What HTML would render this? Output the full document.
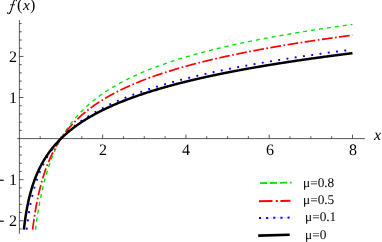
<!DOCTYPE html>
<html><head><meta charset="utf-8"><title>plot</title>
<style>
html,body{margin:0;padding:0;background:#fff;}
#c{position:relative;width:382px;height:242px;overflow:hidden;background:#fff;font-family:"Liberation Serif",serif;color:#000;}
.t{position:absolute;white-space:nowrap;line-height:1;text-rendering:geometricPrecision;will-change:transform;}
</style></head><body>
<div id="c">
<svg width="382" height="242" viewBox="0 0 382 242" style="position:absolute;left:0;top:0">
<g stroke="#222" stroke-width="0.75" fill="none">
<path d="M17.3 138.6 H364.9"/>
<path d="M19.400000000000002 20.0 V233.8"/>
<path d="M40.17 138.6 v-2.4 M60.99 138.6 v-2.4 M81.81 138.6 v-2.4 M102.63 138.6 v-4.0 M123.45 138.6 v-2.4 M144.27 138.6 v-2.4 M165.09 138.6 v-2.4 M185.91 138.6 v-4.0 M206.73 138.6 v-2.4 M227.55 138.6 v-2.4 M248.37 138.6 v-2.4 M269.19 138.6 v-4.0 M290.01 138.6 v-2.4 M310.83 138.6 v-2.4 M331.65 138.6 v-2.4 M352.47 138.6 v-4.0 M19.35 228.98 h2.4 M19.35 220.76 h4.1 M19.35 212.54 h2.4 M19.35 204.33 h2.4 M19.35 196.11 h2.4 M19.35 187.90 h2.4 M19.35 179.68 h4.1 M19.35 171.46 h2.4 M19.35 163.25 h2.4 M19.35 155.03 h2.4 M19.35 146.82 h2.4 M19.35 130.38 h2.4 M19.35 122.17 h2.4 M19.35 113.95 h2.4 M19.35 105.74 h2.4 M19.35 97.52 h4.1 M19.35 89.30 h2.4 M19.35 81.09 h2.4 M19.35 72.87 h2.4 M19.35 64.66 h2.4 M19.35 56.44 h4.1 M19.35 48.22 h2.4 M19.35 40.01 h2.4 M19.35 31.79 h2.4 M19.35 23.58 h2.4"/>
</g>
<path d="M35.47 229.60 L35.56 228.90 L35.65 228.19 L35.75 227.49 L35.84 226.78 L35.93 226.08 L36.03 225.39 L36.12 224.69 L36.22 223.96 L36.32 223.26 L36.42 222.55 L36.52 221.84 L36.62 221.14 L36.72 220.41 L36.83 219.69 L36.93 218.99 L37.04 218.27 L37.14 217.57 L37.25 216.86 L37.36 216.13 L37.47 215.43 L37.58 214.71 L37.70 213.98 L37.81 213.29 L37.92 212.59 L38.04 211.87 L38.16 211.15 L38.28 210.41 L38.40 209.72 L38.51 209.02 L38.63 208.32 L38.76 207.60 L38.88 206.88 L39.01 206.15 L39.15 205.41 L39.28 204.67 L39.41 203.98 L39.53 203.28 L39.66 202.58 L39.80 201.88 L39.93 201.17 L40.07 200.45 L40.21 199.73 L40.35 199.01 L40.50 198.29 L40.64 197.56 L40.79 196.82 L40.94 196.09 L41.10 195.35 L41.25 194.61 L41.41 193.86 L41.57 193.12 L41.72 192.43 L41.87 191.75 L42.02 191.06 L42.18 190.37 L42.34 189.68 L42.50 188.98 L42.66 188.29 L42.82 187.60 L42.99 186.90 L43.15 186.20 L43.32 185.51 L43.49 184.81 L43.67 184.11 L43.84 183.42 L44.02 182.72 L44.20 182.02 L44.38 181.33 L44.56 180.63 L44.75 179.93 L44.93 179.24 L45.12 178.54 L45.31 177.85 L45.51 177.15 L45.70 176.46 L45.90 175.76 L46.10 175.07 L46.30 174.38 L46.51 173.69 L46.71 173.00 L46.92 172.31 L47.13 171.63 L47.34 170.94 L47.56 170.26 L47.77 169.57 L47.99 168.89 L48.21 168.21 L48.43 167.53 L48.66 166.86 L48.88 166.18 L49.11 165.51 L49.34 164.84 L49.58 164.17 L49.81 163.50 L50.05 162.83 L50.29 162.17 L50.53 161.51 L50.77 160.85 L51.02 160.19 L51.27 159.53 L51.52 158.88 L51.79 158.17 L52.07 157.46 L52.35 156.75 L52.63 156.05 L52.92 155.35 L53.21 154.65 L53.50 153.96 L53.79 153.26 L54.09 152.57 L54.39 151.89 L54.69 151.20 L54.99 150.52 L55.30 149.84 L55.61 149.17 L55.92 148.49 L56.23 147.82 L56.55 147.16 L56.87 146.49 L57.19 145.83 L57.51 145.17 L57.84 144.52 L58.17 143.87 L58.50 143.22 L58.84 142.57 L59.18 141.93 L59.52 141.29 L59.86 140.65 L60.21 140.01 L60.55 139.38 L60.90 138.75 L61.26 138.13 L61.61 137.50 L61.97 136.88 L62.33 136.27 L62.70 135.65 L63.07 135.04 L63.44 134.43 L63.81 133.83 L64.18 133.22 L64.56 132.62 L64.94 132.03 L65.32 131.43 L65.71 130.84 L66.10 130.25 L66.49 129.67 L66.88 129.09 L67.28 128.51 L67.68 127.93 L68.08 127.36 L68.49 126.79 L68.93 126.17 L69.37 125.56 L69.82 124.95 L70.27 124.34 L70.73 123.74 L71.18 123.14 L71.65 122.54 L72.11 121.95 L72.58 121.36 L73.05 120.77 L73.52 120.19 L74.00 119.61 L74.48 119.03 L74.96 118.46 L75.45 117.89 L75.94 117.32 L76.43 116.75 L76.93 116.19 L77.43 115.63 L77.93 115.07 L78.44 114.52 L78.95 113.97 L79.46 113.42 L79.98 112.88 L80.50 112.33 L81.02 111.79 L81.54 111.26 L82.07 110.72 L82.61 110.19 L83.14 109.66 L83.68 109.14 L84.22 108.62 L84.77 108.10 L85.32 107.58 L85.87 107.06 L86.43 106.55 L86.99 106.04 L87.55 105.53 L88.12 105.03 L88.64 104.57 L89.17 104.10 L89.70 103.65 L90.23 103.19 L90.77 102.73 L91.31 102.28 L91.85 101.83 L92.40 101.38 L92.95 100.93 L93.50 100.49 L94.05 100.05 L94.61 99.61 L95.17 99.17 L95.73 98.73 L96.29 98.30 L96.86 97.86 L97.43 97.43 L98.01 97.00 L98.58 96.58 L99.16 96.15 L99.75 95.73 L100.33 95.31 L100.92 94.89 L101.51 94.47 L102.11 94.06 L102.70 93.64 L103.30 93.23 L103.91 92.82 L104.51 92.41 L105.12 92.00 L105.73 91.60 L106.35 91.20 L106.97 90.80 L107.59 90.40 L108.21 90.00 L108.84 89.60 L109.47 89.21 L110.10 88.81 L110.73 88.42 L111.37 88.03 L112.01 87.64 L112.66 87.26 L113.30 86.87 L113.95 86.49 L114.61 86.11 L115.26 85.73 L115.92 85.35 L116.58 84.97 L117.25 84.60 L117.86 84.25 L118.47 83.91 L119.09 83.57 L119.71 83.23 L120.33 82.90 L120.95 82.56 L121.58 82.22 L122.21 81.89 L122.84 81.56 L123.48 81.23 L124.11 80.90 L124.75 80.57 L125.39 80.24 L126.04 79.91 L126.69 79.59 L127.34 79.26 L127.99 78.94 L128.64 78.62 L129.30 78.30 L129.96 77.98 L130.62 77.66 L131.28 77.34 L131.95 77.02 L132.62 76.71 L133.29 76.39 L133.97 76.08 L134.64 75.77 L135.32 75.46 L136.01 75.15 L136.69 74.84 L137.38 74.53 L138.07 74.22 L138.76 73.92 L139.45 73.61 L140.15 73.31 L140.85 73.01 L141.55 72.71 L142.26 72.41 L142.97 72.11 L143.61 71.83 L144.26 71.56 L144.91 71.29 L145.56 71.03 L146.22 70.76 L146.87 70.49 L147.53 70.22 L148.19 69.96 L148.85 69.69 L149.52 69.43 L150.18 69.16 L150.85 68.90 L151.52 68.64 L152.20 68.38 L152.87 68.12 L153.55 67.86 L154.23 67.60 L154.91 67.34 L155.59 67.09 L156.28 66.83 L156.97 66.57 L157.66 66.32 L158.35 66.06 L159.04 65.81 L159.74 65.56 L160.44 65.31 L161.14 65.05 L161.84 64.80 L162.54 64.55 L163.25 64.30 L163.96 64.06 L164.67 63.81 L165.39 63.56 L166.10 63.31 L166.82 63.07 L167.54 62.82 L168.26 62.58 L168.99 62.33 L169.71 62.09 L170.44 61.85 L171.17 61.61 L171.90 61.37 L172.64 61.13 L173.38 60.89 L174.11 60.65 L174.78 60.43 L175.45 60.22 L176.12 60.00 L176.79 59.79 L177.47 59.58 L178.14 59.37 L178.82 59.15 L179.50 58.94 L180.18 58.73 L180.87 58.52 L181.55 58.31 L182.24 58.10 L182.92 57.90 L183.61 57.69 L184.31 57.48 L185.00 57.27 L185.69 57.07 L186.39 56.86 L187.09 56.66 L187.79 56.45 L188.49 56.25 L189.20 56.04 L189.90 55.84 L190.61 55.63 L191.32 55.43 L192.03 55.23 L192.74 55.03 L193.46 54.83 L194.17 54.63 L194.89 54.42 L195.61 54.22 L196.33 54.03 L197.06 53.83 L197.78 53.63 L198.51 53.43 L199.24 53.23 L199.97 53.03 L200.70 52.84 L201.44 52.64 L202.17 52.45 L202.91 52.25 L203.65 52.05 L204.39 51.86 L205.13 51.67 L205.88 51.47 L206.62 51.28 L207.37 51.09 L208.12 50.89 L208.87 50.70 L209.63 50.51 L210.38 50.32 L211.14 50.13 L211.90 49.94 L212.66 49.75 L213.42 49.56 L214.19 49.37 L214.87 49.20 L215.55 49.03 L216.23 48.87 L216.92 48.70 L217.61 48.53 L218.29 48.37 L218.98 48.20 L219.67 48.04 L220.37 47.87 L221.06 47.71 L221.76 47.54 L222.45 47.38 L223.15 47.21 L223.85 47.05 L224.55 46.89 L225.25 46.72 L225.96 46.56 L226.66 46.40 L227.37 46.23 L228.08 46.07 L228.78 45.91 L229.50 45.75 L230.21 45.59 L230.92 45.43 L231.64 45.27 L232.35 45.11 L233.07 44.95 L233.79 44.79 L234.51 44.63 L235.23 44.47 L235.96 44.31 L236.68 44.15 L237.41 44.00 L238.14 43.84 L238.86 43.68 L239.59 43.52 L240.33 43.37 L241.06 43.21 L241.80 43.05 L242.53 42.90 L243.27 42.74 L244.01 42.59 L244.75 42.43 L245.49 42.28 L246.24 42.12 L246.98 41.97 L247.73 41.81 L248.47 41.66 L249.22 41.51 L249.97 41.35 L250.73 41.20 L251.48 41.05 L252.24 40.89 L252.99 40.74 L253.75 40.59 L254.51 40.44 L255.27 40.29 L256.03 40.13 L256.80 39.98 L257.56 39.83 L258.33 39.68 L259.10 39.53 L259.86 39.38 L260.64 39.23 L261.41 39.08 L262.18 38.93 L262.96 38.79 L263.73 38.64 L264.51 38.49 L265.29 38.34 L266.07 38.19 L266.85 38.05 L267.64 37.90 L268.42 37.75 L269.11 37.62 L269.80 37.49 L270.49 37.37 L271.18 37.24 L271.88 37.11 L272.57 36.98 L273.27 36.86 L273.96 36.73 L274.66 36.60 L275.36 36.47 L276.06 36.35 L276.76 36.22 L277.46 36.09 L278.16 35.97 L278.87 35.84 L279.57 35.72 L280.28 35.59 L280.98 35.47 L281.69 35.34 L282.40 35.22 L283.11 35.09 L283.82 34.97 L284.54 34.84 L285.25 34.72 L285.97 34.59 L286.68 34.47 L287.40 34.35 L288.12 34.22 L288.84 34.10 L289.56 33.98 L290.28 33.85 L291.00 33.73 L291.73 33.61 L292.45 33.48 L293.18 33.36 L293.90 33.24 L294.63 33.12 L295.36 33.00 L296.09 32.87 L296.82 32.75 L297.56 32.63 L298.29 32.51 L299.03 32.39 L299.76 32.27 L300.50 32.15 L301.24 32.03 L301.98 31.91 L302.72 31.79 L303.46 31.67 L304.20 31.55 L304.95 31.43 L305.69 31.31 L306.44 31.19 L307.19 31.07 L307.94 30.95 L308.68 30.83 L309.44 30.71 L310.19 30.59 L310.94 30.48 L311.70 30.36 L312.45 30.24 L313.21 30.12 L313.96 30.00 L314.72 29.89 L315.48 29.77 L316.24 29.65 L317.01 29.53 L317.77 29.42 L318.53 29.30 L319.30 29.18 L320.07 29.07 L320.83 28.95 L321.60 28.83 L322.37 28.72 L323.14 28.60 L323.92 28.49 L324.69 28.37 L325.46 28.26 L326.24 28.14 L327.02 28.03 L327.79 27.91 L328.57 27.80 L329.35 27.68 L330.13 27.57 L330.92 27.45 L331.70 27.34 L332.48 27.22 L333.27 27.11 L334.06 27.00 L334.85 26.88 L335.63 26.77 L336.42 26.66 L337.22 26.54 L338.01 26.43 L338.80 26.32 L339.60 26.20 L340.39 26.09 L341.19 25.98 L341.99 25.87 L342.79 25.76 L343.59 25.64 L344.39 25.53 L345.19 25.42 L346.00 25.31 L346.80 25.20 L347.61 25.09 L348.42 24.97 L349.22 24.86 L349.92 24.77 L350.61 24.67 L351.31 24.58 L352.01 24.48 L352.47 24.42" fill="none" stroke="#00e600" stroke-width="1.35" stroke-dasharray="4.05 3.956"/>
<path d="M32.61 229.60 L32.69 228.90 L32.78 228.20 L32.87 227.49 L32.97 226.79 L33.06 226.09 L33.15 225.39 L33.25 224.69 L33.34 224.00 L33.44 223.29 L33.54 222.58 L33.64 221.87 L33.74 221.17 L33.84 220.44 L33.95 219.72 L34.05 219.03 L34.16 218.31 L34.26 217.62 L34.37 216.91 L34.48 216.18 L34.59 215.49 L34.70 214.78 L34.81 214.06 L34.93 213.33 L35.05 212.63 L35.16 211.93 L35.28 211.21 L35.40 210.49 L35.53 209.76 L35.66 209.02 L35.78 208.32 L35.90 207.62 L36.03 206.92 L36.16 206.20 L36.29 205.48 L36.43 204.76 L36.57 204.03 L36.71 203.29 L36.85 202.55 L36.99 201.81 L37.13 201.12 L37.27 200.43 L37.41 199.73 L37.55 199.03 L37.70 198.33 L37.85 197.62 L38.00 196.92 L38.15 196.21 L38.31 195.50 L38.47 194.79 L38.63 194.07 L38.79 193.36 L38.95 192.64 L39.12 191.92 L39.29 191.20 L39.46 190.49 L39.64 189.77 L39.81 189.05 L39.99 188.33 L40.17 187.61 L40.36 186.89 L40.54 186.17 L40.73 185.45 L40.92 184.73 L41.12 184.01 L41.31 183.29 L41.51 182.57 L41.71 181.85 L41.91 181.14 L42.12 180.42 L42.33 179.71 L42.54 179.00 L42.75 178.28 L42.97 177.57 L43.18 176.86 L43.40 176.16 L43.63 175.45 L43.85 174.75 L44.08 174.05 L44.31 173.35 L44.54 172.65 L44.78 171.95 L45.02 171.26 L45.26 170.57 L45.50 169.88 L45.75 169.19 L45.99 168.50 L46.24 167.82 L46.50 167.14 L46.75 166.46 L47.01 165.78 L47.27 165.11 L47.54 164.44 L47.80 163.77 L48.07 163.10 L48.34 162.44 L48.61 161.78 L48.89 161.12 L49.17 160.46 L49.45 159.81 L49.73 159.16 L50.02 158.51 L50.31 157.86 L50.60 157.22 L50.90 156.58 L51.19 155.94 L51.49 155.31 L51.79 154.67 L52.12 153.99 L52.46 153.32 L52.79 152.64 L53.13 151.97 L53.47 151.30 L53.82 150.64 L54.17 149.97 L54.52 149.31 L54.88 148.66 L55.23 148.01 L55.59 147.36 L55.96 146.71 L56.33 146.07 L56.70 145.43 L57.07 144.80 L57.45 144.16 L57.83 143.53 L58.21 142.91 L58.60 142.29 L58.99 141.67 L59.38 141.05 L59.77 140.44 L60.17 139.83 L60.57 139.22 L60.98 138.62 L61.39 138.02 L61.80 137.42 L62.21 136.82 L62.63 136.23 L63.05 135.64 L63.48 135.06 L63.90 134.48 L64.34 133.90 L64.77 133.32 L65.21 132.75 L65.65 132.18 L66.09 131.61 L66.54 131.05 L66.99 130.49 L67.44 129.93 L67.90 129.37 L68.36 128.82 L68.82 128.27 L69.29 127.72 L69.76 127.18 L70.23 126.64 L70.70 126.10 L71.18 125.56 L71.67 125.03 L72.15 124.50 L72.64 123.97 L73.13 123.45 L73.63 122.93 L74.13 122.41 L74.63 121.89 L75.14 121.38 L75.65 120.86 L76.16 120.36 L76.67 119.85 L77.19 119.35 L77.71 118.84 L78.24 118.35 L78.77 117.85 L79.30 117.35 L79.84 116.86 L80.37 116.37 L80.92 115.89 L81.46 115.40 L82.01 114.92 L82.56 114.44 L83.12 113.96 L83.68 113.49 L84.24 113.02 L84.81 112.55 L85.37 112.08 L85.95 111.61 L86.52 111.15 L87.10 110.69 L87.68 110.23 L88.27 109.77 L88.86 109.32 L89.45 108.86 L90.05 108.41 L90.65 107.96 L91.25 107.52 L91.85 107.07 L92.46 106.63 L93.08 106.19 L93.69 105.75 L94.31 105.32 L94.89 104.92 L95.47 104.52 L96.05 104.12 L96.63 103.72 L97.22 103.33 L97.81 102.94 L98.40 102.55 L99.00 102.16 L99.59 101.77 L100.19 101.38 L100.80 101.00 L101.41 100.62 L102.02 100.24 L102.63 99.86 L103.25 99.48 L103.86 99.10 L104.49 98.73 L105.11 98.35 L105.74 97.98 L106.37 97.61 L107.00 97.24 L107.64 96.87 L108.28 96.51 L108.92 96.14 L109.57 95.78 L110.22 95.42 L110.87 95.06 L111.52 94.70 L112.18 94.34 L112.84 93.98 L113.50 93.63 L114.17 93.27 L114.84 92.92 L115.51 92.57 L116.19 92.22 L116.87 91.87 L117.49 91.56 L118.12 91.24 L118.75 90.92 L119.38 90.61 L120.01 90.29 L120.65 89.98 L121.29 89.67 L121.93 89.36 L122.58 89.05 L123.22 88.74 L123.87 88.43 L124.53 88.13 L125.18 87.82 L125.84 87.52 L126.50 87.22 L127.16 86.91 L127.83 86.61 L128.49 86.31 L129.16 86.01 L129.84 85.71 L130.51 85.42 L131.19 85.12 L131.87 84.83 L132.55 84.53 L133.24 84.24 L133.92 83.95 L134.61 83.65 L135.31 83.36 L136.00 83.07 L136.70 82.79 L137.40 82.50 L138.10 82.21 L138.81 81.92 L139.52 81.64 L140.23 81.36 L140.94 81.07 L141.66 80.79 L142.31 80.53 L142.97 80.28 L143.63 80.02 L144.28 79.77 L144.95 79.52 L145.61 79.26 L146.28 79.01 L146.94 78.76 L147.61 78.51 L148.29 78.26 L148.96 78.01 L149.64 77.77 L150.32 77.52 L151.00 77.27 L151.68 77.02 L152.37 76.78 L153.05 76.53 L153.74 76.29 L154.43 76.05 L155.13 75.80 L155.82 75.56 L156.52 75.32 L157.22 75.08 L157.93 74.84 L158.63 74.60 L159.34 74.36 L160.05 74.12 L160.76 73.88 L161.47 73.65 L162.19 73.41 L162.90 73.18 L163.62 72.94 L164.34 72.71 L165.07 72.47 L165.79 72.24 L166.52 72.01 L167.25 71.77 L167.99 71.54 L168.72 71.31 L169.46 71.08 L170.20 70.85 L170.94 70.62 L171.68 70.39 L172.35 70.19 L173.03 69.98 L173.70 69.78 L174.38 69.58 L175.05 69.37 L175.73 69.17 L176.42 68.97 L177.10 68.77 L177.78 68.56 L178.47 68.36 L179.16 68.16 L179.85 67.96 L180.54 67.76 L181.24 67.56 L181.93 67.36 L182.63 67.17 L183.33 66.97 L184.03 66.77 L184.73 66.57 L185.44 66.38 L186.15 66.18 L186.85 65.99 L187.56 65.79 L188.28 65.59 L188.99 65.40 L189.70 65.21 L190.42 65.01 L191.14 64.82 L191.86 64.63 L192.58 64.43 L193.31 64.24 L194.03 64.05 L194.76 63.86 L195.49 63.67 L196.22 63.48 L196.96 63.29 L197.69 63.10 L198.43 62.91 L199.17 62.72 L199.91 62.53 L200.65 62.35 L201.39 62.16 L202.14 61.97 L202.89 61.78 L203.63 61.60 L204.39 61.41 L205.14 61.23 L205.89 61.04 L206.65 60.86 L207.41 60.67 L208.17 60.49 L208.93 60.30 L209.69 60.12 L210.46 59.94 L211.14 59.78 L211.82 59.61 L212.51 59.45 L213.20 59.29 L213.88 59.13 L214.57 58.97 L215.26 58.81 L215.95 58.65 L216.65 58.49 L217.34 58.33 L218.04 58.17 L218.74 58.01 L219.44 57.85 L220.14 57.69 L220.84 57.54 L221.54 57.38 L222.25 57.22 L222.95 57.06 L223.66 56.91 L224.37 56.75 L225.08 56.59 L225.79 56.44 L226.50 56.28 L227.22 56.12 L227.94 55.97 L228.65 55.81 L229.37 55.66 L230.09 55.50 L230.81 55.35 L231.54 55.20 L232.26 55.04 L232.99 54.89 L233.72 54.73 L234.45 54.58 L235.18 54.43 L235.91 54.28 L236.64 54.12 L237.38 53.97 L238.11 53.82 L238.85 53.67 L239.59 53.52 L240.33 53.37 L241.07 53.22 L241.82 53.07 L242.56 52.92 L243.31 52.77 L244.06 52.62 L244.81 52.47 L245.56 52.32 L246.31 52.17 L247.06 52.02 L247.82 51.87 L248.57 51.72 L249.33 51.58 L250.09 51.43 L250.85 51.28 L251.62 51.13 L252.38 50.99 L253.14 50.84 L253.91 50.69 L254.68 50.55 L255.45 50.40 L256.22 50.26 L256.99 50.11 L257.77 49.96 L258.54 49.82 L259.32 49.67 L260.10 49.53 L260.88 49.39 L261.66 49.24 L262.44 49.10 L263.23 48.95 L264.01 48.81 L264.80 48.67 L265.49 48.54 L266.18 48.42 L266.87 48.29 L267.57 48.17 L268.26 48.04 L268.95 47.92 L269.65 47.80 L270.35 47.67 L271.05 47.55 L271.75 47.42 L272.45 47.30 L273.15 47.18 L273.85 47.06 L274.56 46.93 L275.26 46.81 L275.97 46.69 L276.68 46.56 L277.39 46.44 L278.10 46.32 L278.81 46.20 L279.52 46.08 L280.24 45.96 L280.95 45.83 L281.67 45.71 L282.38 45.59 L283.10 45.47 L283.82 45.35 L284.54 45.23 L285.26 45.11 L285.98 44.99 L286.71 44.87 L287.43 44.75 L288.16 44.63 L288.88 44.51 L289.61 44.39 L290.34 44.27 L291.07 44.15 L291.80 44.03 L292.54 43.92 L293.27 43.80 L294.00 43.68 L294.74 43.56 L295.48 43.44 L296.22 43.32 L296.96 43.21 L297.70 43.09 L298.44 42.97 L299.18 42.85 L299.92 42.74 L300.67 42.62 L301.41 42.50 L302.16 42.39 L302.91 42.27 L303.66 42.15 L304.41 42.04 L305.16 41.92 L305.92 41.81 L306.67 41.69 L307.42 41.57 L308.18 41.46 L308.94 41.34 L309.70 41.23 L310.46 41.11 L311.22 41.00 L311.98 40.88 L312.74 40.77 L313.51 40.65 L314.27 40.54 L315.04 40.43 L315.81 40.31 L316.58 40.20 L317.35 40.08 L318.12 39.97 L318.89 39.86 L319.66 39.74 L320.44 39.63 L321.21 39.52 L321.99 39.40 L322.77 39.29 L323.55 39.18 L324.33 39.07 L325.11 38.95 L325.89 38.84 L326.67 38.73 L327.46 38.62 L328.24 38.51 L329.03 38.40 L329.82 38.28 L330.61 38.17 L331.40 38.06 L332.19 37.95 L332.98 37.84 L333.78 37.73 L334.57 37.62 L335.37 37.51 L336.17 37.40 L336.96 37.29 L337.76 37.18 L338.56 37.07 L339.37 36.96 L340.17 36.85 L340.97 36.74 L341.78 36.63 L342.59 36.52 L343.39 36.41 L344.20 36.30 L344.90 36.21 L345.59 36.12 L346.29 36.02 L346.98 35.93 L347.68 35.84 L348.38 35.74 L349.08 35.65 L349.78 35.56 L350.48 35.47 L351.18 35.37 L351.88 35.28 L352.47 35.20" fill="none" stroke="#ff0000" stroke-width="1.7" stroke-dasharray="10.7 2.5 1.7 2.48"/>
<path d="M26.63 229.60 L26.71 228.90 L26.79 228.20 L26.88 227.50 L26.96 226.79 L27.05 226.08 L27.13 225.38 L27.22 224.68 L27.31 223.96 L27.40 223.26 L27.49 222.56 L27.59 221.83 L27.68 221.11 L27.78 220.40 L27.88 219.68 L27.98 218.97 L28.08 218.24 L28.19 217.54 L28.29 216.82 L28.40 216.10 L28.51 215.40 L28.61 214.69 L28.73 213.98 L28.84 213.25 L28.96 212.51 L29.08 211.82 L29.19 211.11 L29.31 210.40 L29.44 209.69 L29.56 208.96 L29.69 208.24 L29.83 207.50 L29.96 206.77 L30.09 206.08 L30.22 205.39 L30.36 204.69 L30.49 203.99 L30.63 203.29 L30.78 202.59 L30.92 201.88 L31.07 201.17 L31.22 200.47 L31.37 199.75 L31.53 199.04 L31.69 198.33 L31.85 197.62 L32.01 196.90 L32.18 196.19 L32.35 195.48 L32.52 194.76 L32.70 194.05 L32.88 193.33 L33.06 192.62 L33.24 191.91 L33.43 191.20 L33.62 190.49 L33.81 189.78 L34.00 189.07 L34.20 188.36 L34.40 187.65 L34.61 186.95 L34.81 186.25 L35.02 185.55 L35.24 184.85 L35.45 184.15 L35.67 183.45 L35.89 182.76 L36.11 182.07 L36.34 181.38 L36.57 180.69 L36.80 180.01 L37.04 179.33 L37.28 178.65 L37.52 177.97 L37.77 177.30 L38.01 176.62 L38.26 175.95 L38.52 175.29 L38.77 174.62 L39.03 173.96 L39.30 173.30 L39.56 172.65 L39.83 171.99 L40.10 171.34 L40.38 170.69 L40.66 170.05 L40.94 169.41 L41.24 168.72 L41.55 168.03 L41.86 167.35 L42.18 166.67 L42.50 166.00 L42.82 165.33 L43.15 164.66 L43.48 163.99 L43.82 163.33 L44.15 162.67 L44.49 162.02 L44.84 161.36 L45.19 160.72 L45.54 160.07 L45.90 159.43 L46.26 158.79 L46.62 158.15 L46.99 157.52 L47.36 156.89 L47.73 156.27 L48.11 155.65 L48.49 155.03 L48.87 154.41 L49.26 153.80 L49.65 153.19 L50.05 152.58 L50.45 151.98 L50.85 151.38 L51.26 150.78 L51.67 150.19 L52.09 149.60 L52.50 149.01 L52.93 148.43 L53.35 147.85 L53.78 147.27 L54.21 146.69 L54.65 146.12 L55.09 145.55 L55.54 144.99 L55.98 144.42 L56.44 143.86 L56.89 143.30 L57.35 142.75 L57.81 142.20 L58.28 141.65 L58.75 141.10 L59.23 140.56 L59.71 140.02 L60.19 139.48 L60.67 138.95 L61.16 138.41 L61.66 137.88 L62.15 137.36 L62.66 136.83 L63.16 136.31 L63.67 135.79 L64.18 135.27 L64.70 134.76 L65.22 134.25 L65.74 133.74 L66.27 133.23 L66.80 132.73 L67.34 132.23 L67.88 131.73 L68.42 131.23 L68.97 130.74 L69.52 130.24 L70.08 129.75 L70.64 129.27 L71.20 128.78 L71.77 128.30 L72.34 127.82 L72.91 127.34 L73.49 126.87 L74.07 126.39 L74.66 125.92 L75.21 125.49 L75.76 125.05 L76.32 124.62 L76.87 124.19 L77.44 123.76 L78.00 123.34 L78.57 122.91 L79.14 122.49 L79.72 122.07 L80.30 121.65 L80.88 121.23 L81.47 120.82 L82.05 120.40 L82.65 119.99 L83.24 119.58 L83.84 119.17 L84.45 118.77 L85.05 118.36 L85.66 117.96 L86.28 117.55 L86.89 117.15 L87.51 116.76 L88.14 116.36 L88.76 115.96 L89.39 115.57 L90.03 115.18 L90.67 114.79 L91.31 114.40 L91.95 114.01 L92.60 113.62 L93.25 113.24 L93.86 112.89 L94.46 112.53 L95.08 112.18 L95.69 111.83 L96.31 111.48 L96.93 111.14 L97.55 110.79 L98.17 110.45 L98.80 110.10 L99.43 109.76 L100.07 109.42 L100.71 109.08 L101.35 108.74 L101.99 108.40 L102.64 108.07 L103.29 107.73 L103.94 107.40 L104.59 107.07 L105.25 106.74 L105.91 106.40 L106.58 106.08 L107.25 105.75 L107.92 105.42 L108.59 105.09 L109.27 104.77 L109.95 104.45 L110.63 104.12 L111.32 103.80 L112.01 103.48 L112.70 103.16 L113.33 102.87 L113.97 102.58 L114.62 102.29 L115.26 102.00 L115.91 101.71 L116.56 101.42 L117.21 101.14 L117.87 100.85 L118.52 100.57 L119.18 100.28 L119.85 100.00 L120.51 99.72 L121.18 99.44 L121.85 99.16 L122.52 98.88 L123.20 98.60 L123.88 98.32 L124.56 98.04 L125.24 97.77 L125.93 97.49 L126.62 97.21 L127.31 96.94 L128.00 96.67 L128.70 96.39 L129.40 96.12 L130.10 95.85 L130.80 95.58 L131.51 95.31 L132.22 95.04 L132.93 94.78 L133.65 94.51 L134.36 94.24 L135.08 93.98 L135.81 93.71 L136.46 93.47 L137.13 93.23 L137.79 92.99 L138.45 92.76 L139.12 92.52 L139.79 92.28 L140.46 92.04 L141.14 91.81 L141.82 91.57 L142.49 91.34 L143.17 91.10 L143.86 90.87 L144.54 90.64 L145.23 90.41 L145.92 90.17 L146.61 89.94 L147.31 89.71 L148.00 89.48 L148.70 89.25 L149.40 89.02 L150.10 88.79 L150.81 88.57 L151.51 88.34 L152.22 88.11 L152.94 87.89 L153.65 87.66 L154.36 87.44 L155.08 87.21 L155.80 86.99 L156.52 86.76 L157.25 86.54 L157.98 86.32 L158.71 86.10 L159.44 85.87 L160.17 85.65 L160.91 85.43 L161.64 85.21 L162.38 84.99 L163.13 84.78 L163.87 84.56 L164.62 84.34 L165.29 84.14 L165.97 83.95 L166.64 83.75 L167.32 83.56 L168.00 83.37 L168.69 83.17 L169.37 82.98 L170.06 82.79 L170.74 82.59 L171.43 82.40 L172.13 82.21 L172.82 82.02 L173.52 81.83 L174.21 81.64 L174.91 81.45 L175.61 81.26 L176.31 81.07 L177.02 80.88 L177.73 80.69 L178.43 80.50 L179.14 80.32 L179.85 80.13 L180.57 79.94 L181.28 79.76 L182.00 79.57 L182.72 79.38 L183.44 79.20 L184.16 79.01 L184.89 78.83 L185.61 78.65 L186.34 78.46 L187.07 78.28 L187.80 78.09 L188.54 77.91 L189.27 77.73 L190.01 77.55 L190.75 77.37 L191.49 77.18 L192.23 77.00 L192.97 76.82 L193.72 76.64 L194.47 76.46 L195.22 76.28 L195.97 76.10 L196.72 75.92 L197.48 75.75 L198.23 75.57 L198.99 75.39 L199.75 75.21 L200.52 75.03 L201.28 74.86 L202.05 74.68 L202.73 74.52 L203.41 74.37 L204.10 74.21 L204.78 74.06 L205.47 73.90 L206.16 73.74 L206.85 73.59 L207.55 73.43 L208.24 73.28 L208.94 73.13 L209.63 72.97 L210.33 72.82 L211.03 72.66 L211.73 72.51 L212.44 72.36 L213.14 72.21 L213.85 72.05 L214.55 71.90 L215.26 71.75 L215.97 71.60 L216.68 71.45 L217.40 71.29 L218.11 71.14 L218.83 70.99 L219.54 70.84 L220.26 70.69 L220.98 70.54 L221.71 70.39 L222.43 70.24 L223.15 70.09 L223.88 69.94 L224.61 69.79 L225.34 69.65 L226.07 69.50 L226.80 69.35 L227.53 69.20 L228.27 69.05 L229.00 68.91 L229.74 68.76 L230.48 68.61 L231.22 68.47 L231.96 68.32 L232.71 68.17 L233.45 68.03 L234.20 67.88 L234.95 67.74 L235.70 67.59 L236.45 67.45 L237.20 67.30 L237.95 67.16 L238.71 67.01 L239.47 66.87 L240.23 66.72 L240.99 66.58 L241.75 66.44 L242.51 66.29 L243.27 66.15 L244.04 66.01 L244.81 65.86 L245.58 65.72 L246.35 65.58 L247.12 65.44 L247.89 65.30 L248.66 65.15 L249.44 65.01 L250.22 64.87 L251.00 64.73 L251.78 64.59 L252.56 64.45 L253.34 64.31 L254.13 64.17 L254.91 64.03 L255.60 63.91 L256.29 63.79 L256.99 63.66 L257.68 63.54 L258.37 63.42 L259.07 63.30 L259.76 63.18 L260.46 63.06 L261.16 62.94 L261.86 62.82 L262.56 62.69 L263.26 62.57 L263.96 62.45 L264.67 62.33 L265.37 62.21 L266.08 62.09 L266.79 61.97 L267.50 61.86 L268.21 61.74 L268.92 61.62 L269.63 61.50 L270.34 61.38 L271.06 61.26 L271.77 61.14 L272.49 61.02 L273.21 60.91 L273.93 60.79 L274.65 60.67 L275.37 60.55 L276.09 60.43 L276.81 60.32 L277.54 60.20 L278.26 60.08 L278.99 59.96 L279.72 59.85 L280.45 59.73 L281.18 59.61 L281.91 59.50 L282.64 59.38 L283.38 59.27 L284.11 59.15 L284.85 59.03 L285.58 58.92 L286.32 58.80 L287.06 58.69 L287.80 58.57 L288.54 58.46 L289.29 58.34 L290.03 58.23 L290.78 58.11 L291.52 58.00 L292.27 57.88 L293.02 57.77 L293.77 57.65 L294.52 57.54 L295.27 57.43 L296.03 57.31 L296.78 57.20 L297.54 57.09 L298.29 56.97 L299.05 56.86 L299.81 56.75 L300.57 56.63 L301.33 56.52 L302.09 56.41 L302.86 56.30 L303.62 56.18 L304.39 56.07 L305.16 55.96 L305.92 55.85 L306.69 55.74 L307.46 55.62 L308.24 55.51 L309.01 55.40 L309.78 55.29 L310.56 55.18 L311.33 55.07 L312.11 54.96 L312.89 54.85 L313.67 54.74 L314.45 54.63 L315.23 54.52 L316.02 54.41 L316.80 54.30 L317.59 54.19 L318.37 54.08 L319.16 53.97 L319.95 53.86 L320.74 53.75 L321.53 53.64 L322.33 53.53 L323.12 53.42 L323.91 53.31 L324.71 53.20 L325.51 53.09 L326.31 52.99 L327.11 52.88 L327.91 52.77 L328.71 52.66 L329.51 52.55 L330.32 52.45 L331.12 52.34 L331.93 52.23 L332.74 52.12 L333.54 52.02 L334.24 51.92 L334.93 51.83 L335.63 51.74 L336.33 51.65 L337.02 51.56 L337.72 51.47 L338.42 51.37 L339.12 51.28 L339.82 51.19 L340.52 51.10 L341.23 51.01 L341.93 50.92 L342.64 50.83 L343.34 50.74 L344.05 50.65 L344.75 50.56 L345.46 50.47 L346.17 50.38 L346.88 50.29 L347.59 50.20 L348.30 50.11 L349.02 50.02 L349.73 49.93 L350.44 49.84 L351.16 49.75 L351.87 49.66 L352.47 49.58" fill="none" stroke="#0000ff" stroke-width="1.9" stroke-dasharray="1.9 6.442"/>
<path d="M23.89 229.60 L23.97 228.90 L24.05 228.20 L24.13 227.49 L24.22 226.77 L24.30 226.06 L24.39 225.35 L24.48 224.64 L24.57 223.92 L24.66 223.22 L24.75 222.52 L24.85 221.79 L24.94 221.08 L25.04 220.37 L25.14 219.65 L25.24 218.94 L25.34 218.22 L25.45 217.53 L25.55 216.82 L25.66 216.10 L25.77 215.37 L25.88 214.68 L26.00 213.97 L26.11 213.26 L26.23 212.53 L26.36 211.80 L26.49 211.07 L26.61 210.37 L26.73 209.67 L26.86 208.96 L26.99 208.26 L27.12 207.54 L27.26 206.82 L27.40 206.10 L27.55 205.38 L27.69 204.65 L27.84 203.92 L27.99 203.19 L28.15 202.45 L28.31 201.71 L28.46 201.03 L28.61 200.34 L28.77 199.66 L28.93 198.97 L29.09 198.28 L29.25 197.59 L29.42 196.91 L29.59 196.22 L29.76 195.53 L29.94 194.84 L30.12 194.16 L30.30 193.47 L30.48 192.78 L30.67 192.10 L30.86 191.42 L31.05 190.73 L31.25 190.05 L31.45 189.37 L31.65 188.69 L31.86 188.02 L32.06 187.34 L32.27 186.67 L32.49 185.99 L32.70 185.32 L32.92 184.66 L33.14 183.99 L33.37 183.33 L33.60 182.66 L33.84 181.95 L34.10 181.24 L34.35 180.54 L34.61 179.83 L34.87 179.13 L35.14 178.44 L35.41 177.74 L35.68 177.05 L35.96 176.36 L36.24 175.67 L36.52 174.99 L36.81 174.31 L37.10 173.63 L37.39 172.96 L37.69 172.29 L37.99 171.62 L38.30 170.95 L38.60 170.29 L38.92 169.63 L39.23 168.97 L39.55 168.32 L39.87 167.67 L40.20 167.02 L40.53 166.38 L40.86 165.73 L41.20 165.10 L41.54 164.46 L41.88 163.83 L42.23 163.20 L42.58 162.57 L42.94 161.95 L43.29 161.33 L43.66 160.72 L44.02 160.10 L44.39 159.49 L44.76 158.88 L45.14 158.28 L45.52 157.68 L45.91 157.08 L46.29 156.48 L46.69 155.89 L47.08 155.30 L47.48 154.71 L47.88 154.13 L48.29 153.55 L48.70 152.97 L49.11 152.39 L49.53 151.82 L49.95 151.25 L50.38 150.68 L50.81 150.12 L51.24 149.56 L51.68 149.00 L52.12 148.45 L52.56 147.89 L53.01 147.34 L53.46 146.79 L53.92 146.25 L54.37 145.71 L54.84 145.17 L55.30 144.63 L55.77 144.10 L56.25 143.57 L56.73 143.04 L57.21 142.51 L57.70 141.99 L58.19 141.46 L58.68 140.95 L59.18 140.43 L59.68 139.92 L60.18 139.40 L60.69 138.90 L61.20 138.39 L61.72 137.88 L62.24 137.38 L62.77 136.88 L63.30 136.39 L63.83 135.89 L64.36 135.40 L64.90 134.91 L65.45 134.42 L66.00 133.94 L66.55 133.45 L67.10 132.97 L67.66 132.49 L68.23 132.02 L68.79 131.54 L69.37 131.07 L69.94 130.60 L70.52 130.13 L71.10 129.67 L71.69 129.20 L72.28 128.74 L72.88 128.28 L73.48 127.83 L74.04 127.40 L74.60 126.98 L75.17 126.56 L75.74 126.14 L76.31 125.73 L76.89 125.31 L77.47 124.90 L78.05 124.49 L78.64 124.08 L79.23 123.67 L79.83 123.27 L80.43 122.86 L81.03 122.46 L81.63 122.06 L82.24 121.66 L82.85 121.26 L83.47 120.87 L84.09 120.47 L84.71 120.08 L85.33 119.69 L85.96 119.30 L86.60 118.91 L87.23 118.52 L87.87 118.14 L88.52 117.75 L89.16 117.37 L89.81 116.99 L90.47 116.61 L91.12 116.23 L91.73 115.89 L92.35 115.54 L92.96 115.19 L93.58 114.85 L94.20 114.51 L94.83 114.17 L95.46 113.83 L96.09 113.49 L96.72 113.15 L97.36 112.81 L98.00 112.48 L98.64 112.14 L99.29 111.81 L99.94 111.48 L100.59 111.14 L101.25 110.81 L101.90 110.49 L102.57 110.16 L103.23 109.83 L103.90 109.51 L104.57 109.18 L105.24 108.86 L105.92 108.53 L106.60 108.21 L107.28 107.89 L107.97 107.57 L108.66 107.26 L109.35 106.94 L110.04 106.62 L110.68 106.33 L111.32 106.05 L111.97 105.76 L112.62 105.47 L113.27 105.19 L113.92 104.90 L114.58 104.62 L115.23 104.34 L115.89 104.05 L116.56 103.77 L117.22 103.49 L117.89 103.21 L118.56 102.93 L119.24 102.66 L119.91 102.38 L120.59 102.10 L121.27 101.83 L121.96 101.55 L122.64 101.28 L123.33 101.01 L124.02 100.73 L124.72 100.46 L125.41 100.19 L126.11 99.92 L126.82 99.65 L127.52 99.38 L128.23 99.11 L128.94 98.85 L129.65 98.58 L130.37 98.32 L131.09 98.05 L131.81 97.79 L132.53 97.52 L133.19 97.28 L133.85 97.05 L134.52 96.81 L135.18 96.57 L135.85 96.34 L136.52 96.10 L137.19 95.86 L137.87 95.63 L138.55 95.40 L139.23 95.16 L139.91 94.93 L140.59 94.70 L141.28 94.46 L141.97 94.23 L142.66 94.00 L143.35 93.77 L144.04 93.54 L144.74 93.31 L145.44 93.09 L146.14 92.86 L146.85 92.63 L147.55 92.40 L148.26 92.18 L148.97 91.95 L149.68 91.73 L150.40 91.50 L151.11 91.28 L151.83 91.05 L152.55 90.83 L153.28 90.61 L154.00 90.39 L154.73 90.17 L155.46 89.94 L156.19 89.72 L156.93 89.50 L157.67 89.28 L158.40 89.07 L159.15 88.85 L159.89 88.63 L160.64 88.41 L161.31 88.22 L161.98 88.02 L162.66 87.83 L163.34 87.63 L164.02 87.44 L164.70 87.25 L165.38 87.05 L166.07 86.86 L166.76 86.67 L167.45 86.48 L168.14 86.29 L168.83 86.10 L169.53 85.90 L170.22 85.71 L170.92 85.52 L171.62 85.34 L172.32 85.15 L173.03 84.96 L173.73 84.77 L174.44 84.58 L175.15 84.39 L175.86 84.21 L176.57 84.02 L177.29 83.83 L178.00 83.65 L178.72 83.46 L179.44 83.28 L180.17 83.09 L180.89 82.91 L181.62 82.72 L182.34 82.54 L183.07 82.36 L183.80 82.17 L184.54 81.99 L185.27 81.81 L186.01 81.63 L186.75 81.45 L187.49 81.26 L188.23 81.08 L188.97 80.90 L189.72 80.72 L190.47 80.54 L191.22 80.36 L191.97 80.18 L192.72 80.00 L193.47 79.83 L194.23 79.65 L194.99 79.47 L195.75 79.29 L196.51 79.12 L197.28 78.94 L198.04 78.76 L198.73 78.61 L199.41 78.45 L200.09 78.29 L200.78 78.14 L201.47 77.98 L202.16 77.83 L202.85 77.67 L203.54 77.52 L204.24 77.36 L204.93 77.21 L205.63 77.05 L206.33 76.90 L207.03 76.75 L207.73 76.59 L208.43 76.44 L209.14 76.29 L209.84 76.14 L210.55 75.98 L211.26 75.83 L211.97 75.68 L212.68 75.53 L213.39 75.38 L214.11 75.23 L214.82 75.08 L215.54 74.92 L216.26 74.77 L216.98 74.62 L217.70 74.47 L218.43 74.32 L219.15 74.18 L219.88 74.03 L220.61 73.88 L221.34 73.73 L222.07 73.58 L222.80 73.43 L223.53 73.28 L224.27 73.14 L225.00 72.99 L225.74 72.84 L226.48 72.70 L227.22 72.55 L227.97 72.40 L228.71 72.26 L229.46 72.11 L230.20 71.96 L230.95 71.82 L231.70 71.67 L232.45 71.53 L233.20 71.38 L233.96 71.24 L234.72 71.09 L235.47 70.95 L236.23 70.81 L236.99 70.66 L237.75 70.52 L238.52 70.38 L239.28 70.23 L240.05 70.09 L240.82 69.95 L241.58 69.80 L242.36 69.66 L243.13 69.52 L243.90 69.38 L244.68 69.24 L245.45 69.10 L246.23 68.95 L247.01 68.81 L247.79 68.67 L248.57 68.53 L249.36 68.39 L250.14 68.25 L250.93 68.11 L251.62 67.99 L252.31 67.87 L253.00 67.75 L253.70 67.62 L254.39 67.50 L255.09 67.38 L255.78 67.26 L256.48 67.14 L257.18 67.02 L257.88 66.90 L258.58 66.78 L259.29 66.66 L259.99 66.54 L260.69 66.42 L261.40 66.30 L262.11 66.18 L262.82 66.06 L263.53 65.94 L264.24 65.82 L264.95 65.70 L265.66 65.58 L266.37 65.46 L267.09 65.34 L267.81 65.22 L268.52 65.10 L269.24 64.99 L269.96 64.87 L270.68 64.75 L271.40 64.63 L272.13 64.51 L272.85 64.40 L273.58 64.28 L274.30 64.16 L275.03 64.05 L275.76 63.93 L276.49 63.81 L277.22 63.69 L277.95 63.58 L278.69 63.46 L279.42 63.35 L280.16 63.23 L280.89 63.11 L281.63 63.00 L282.37 62.88 L283.11 62.77 L283.85 62.65 L284.60 62.54 L285.34 62.42 L286.09 62.31 L286.83 62.19 L287.58 62.08 L288.33 61.96 L289.08 61.85 L289.83 61.73 L290.58 61.62 L291.33 61.51 L292.09 61.39 L292.84 61.28 L293.60 61.16 L294.36 61.05 L295.12 60.94 L295.88 60.83 L296.64 60.71 L297.40 60.60 L298.17 60.49 L298.93 60.37 L299.70 60.26 L300.46 60.15 L301.23 60.04 L302.00 59.93 L302.77 59.81 L303.54 59.70 L304.32 59.59 L305.09 59.48 L305.87 59.37 L306.64 59.26 L307.42 59.15 L308.20 59.03 L308.98 58.92 L309.76 58.81 L310.54 58.70 L311.32 58.59 L312.11 58.48 L312.89 58.37 L313.68 58.26 L314.47 58.15 L315.26 58.04 L316.05 57.93 L316.84 57.82 L317.63 57.71 L318.43 57.60 L319.22 57.50 L320.02 57.39 L320.82 57.28 L321.62 57.17 L322.41 57.06 L323.22 56.95 L324.02 56.84 L324.82 56.74 L325.63 56.63 L326.43 56.52 L327.24 56.41 L328.05 56.30 L328.86 56.20 L329.55 56.10 L330.25 56.01 L330.94 55.92 L331.64 55.83 L332.34 55.74 L333.04 55.65 L333.73 55.55 L334.44 55.46 L335.14 55.37 L335.84 55.28 L336.54 55.19 L337.25 55.10 L337.95 55.01 L338.66 54.92 L339.36 54.83 L340.07 54.73 L340.78 54.64 L341.49 54.55 L342.20 54.46 L342.91 54.37 L343.62 54.28 L344.33 54.19 L345.05 54.10 L345.76 54.01 L346.48 53.92 L347.19 53.83 L347.91 53.74 L348.63 53.65 L349.35 53.56 L350.07 53.47 L350.79 53.38 L351.51 53.30 L352.23 53.21 L352.47 53.18" fill="none" stroke="#000" stroke-width="2.5"/>
<path d="M259.9 183.15 L291.6 182.6" fill="none" stroke="#00e600" stroke-width="1.85" stroke-dasharray="7.1 2.9"/>
<path d="M260 218.0 L288.6 217.65" fill="none" stroke="#0000ff" stroke-width="0.9" opacity="0.16"/>
<path d="M259.0 201.35 L290.4 200.8" fill="none" stroke="#ff0000" stroke-width="2.0" stroke-dasharray="13.5 3.3 2.0 2.6"/>
<path d="M259.0 218.0 L290 217.6" fill="none" stroke="#0000ff" stroke-width="2.0" stroke-dasharray="2.0 5.15"/>
<path d="M258.2 235.6 L289.7 234.8" fill="none" stroke="#000" stroke-width="2.6"/>
<g fill="none" stroke="#000" stroke-linecap="round" stroke-linejoin="round">
<path d="M14.55 -0.3 C13.4 2.0 12.6 5.0 11.65 8.7 C11.05 11.0 10.35 12.8 9.45 13.5" stroke-width="1.05"/>
<path d="M14.55 -0.3 C15.1 -1.3 16.3 -1.0 16.45 0.5" stroke-width="0.6"/>
<path d="M9.45 13.5 C8.65 14.1 7.55 13.9 7.55 13.1" stroke-width="0.65"/>
<path d="M10.4 4.75 H14.7" stroke-width="0.75"/>
</g>
<circle cx="16.3" cy="0.6" r="0.58" fill="#000"/><circle cx="7.7" cy="13.0" r="0.65" fill="#000"/>
</svg>
<div class="t" id="p1" style="left:17.3px;top:-2.2px;font-size:16px;">(</div>
<div class="t" id="fx" style="left:22.55px;top:-1.65px;font-size:15.5px;font-style:italic;">x</div>
<div class="t" id="p2" style="left:29.5px;top:-2.2px;font-size:16px;">)</div>
<div class="t" id="xl" style="left:374.4px;top:127.5px;font-size:16px;font-style:italic;">x</div>
<div class="t" id="y2" style="left:9.15px;top:49.59px;font-size:16px;">2</div>
<div class="t" id="y1" style="left:9.15px;top:90.67px;font-size:16px;">1</div>
<div class="t" id="y-1" style="left:9.15px;top:172.93px;font-size:16px;">1</div>
<div class="t" id="m-1" style="left:-0.7px;top:172.33px;font-size:16px;">-</div>
<div class="t" id="y-2" style="left:9.15px;top:214.01px;font-size:16px;">2</div>
<div class="t" id="m-2" style="left:-0.7px;top:213.41px;font-size:16px;">-</div>
<div class="t" id="x2" style="left:99.03px;top:142.75px;font-size:16px;">2</div>
<div class="t" id="x4" style="left:182.31px;top:142.75px;font-size:16px;">4</div>
<div class="t" id="x6" style="left:265.59px;top:142.75px;font-size:16px;">6</div>
<div class="t" id="x8" style="left:348.87px;top:142.75px;font-size:16px;">8</div>
<div class="t" id="l0" style="left:303.3px;top:175.8px;font-size:13.3px;">μ=0.8</div>
<div class="t" id="l1" style="left:303.3px;top:193.08px;font-size:13.3px;">μ=0.5</div>
<div class="t" id="l2" style="left:304.5px;top:210.36px;font-size:13.3px;">μ=0.1</div>
<div class="t" id="l3" style="left:304.5px;top:227.64px;font-size:13.3px;">μ=0</div>
</div>
</body></html>
